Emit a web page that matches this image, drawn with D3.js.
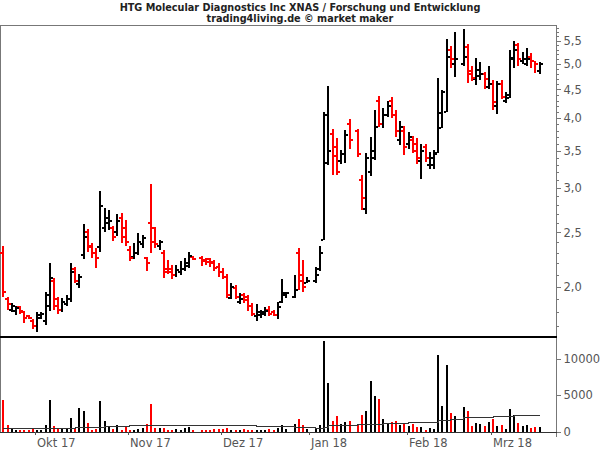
<!DOCTYPE html>
<html><head><meta charset="utf-8">
<script src="https://cdn.jsdelivr.net/npm/d3@7"></script>
<style>body{margin:0;background:#fff}svg{display:block}</style>
</head><body><svg id="c" width="600" height="450"></svg>
<script>
const dates = ["2017-09-20","2017-09-21","2017-09-22","2017-09-25","2017-09-26","2017-09-27","2017-09-28","2017-09-29",
"2017-10-02","2017-10-03","2017-10-04","2017-10-05","2017-10-06","2017-10-09","2017-10-10","2017-10-11","2017-10-12","2017-10-13",
"2017-10-16","2017-10-17","2017-10-18","2017-10-19","2017-10-20","2017-10-23","2017-10-24","2017-10-25","2017-10-26","2017-10-27",
"2017-10-30","2017-10-31","2017-11-01","2017-11-02","2017-11-03","2017-11-06","2017-11-07","2017-11-08","2017-11-09","2017-11-10",
"2017-11-13","2017-11-14","2017-11-15","2017-11-16","2017-11-17","2017-11-20","2017-11-21","2017-11-22","2017-11-24",
"2017-11-27","2017-11-28","2017-11-29","2017-11-30","2017-12-01","2017-12-04","2017-12-05","2017-12-06","2017-12-07","2017-12-08",
"2017-12-11","2017-12-12","2017-12-13","2017-12-14","2017-12-15","2017-12-18","2017-12-19","2017-12-20","2017-12-21","2017-12-22",
"2017-12-26","2017-12-27","2017-12-28","2017-12-29","2018-01-02","2018-01-03","2018-01-04","2018-01-05",
"2018-01-08","2018-01-09","2018-01-10","2018-01-11","2018-01-12","2018-01-16","2018-01-17","2018-01-18","2018-01-19",
"2018-01-22","2018-01-23","2018-01-24","2018-01-25","2018-01-26","2018-01-29","2018-01-30","2018-01-31","2018-02-01","2018-02-02",
"2018-02-05","2018-02-06","2018-02-07","2018-02-08","2018-02-09","2018-02-12","2018-02-13","2018-02-14","2018-02-15","2018-02-16",
"2018-02-20","2018-02-21","2018-02-22","2018-02-23","2018-02-26","2018-02-27","2018-02-28","2018-03-01","2018-03-02",
"2018-03-05","2018-03-06","2018-03-07","2018-03-08","2018-03-09","2018-03-12","2018-03-13","2018-03-14","2018-03-15","2018-03-16"];
const open  = [2.30,1.90,1.82,1.81,1.84,1.80,1.77,1.74, 1.70,1.76,1.74,1.85,2.05,1.90,1.82,1.86,1.90,2.15, 2.02,2.28,2.50,2.36,2.30,2.35,2.55,2.60,2.55,2.50,
 2.65,2.55,2.33,2.26,2.30,2.38,2.25,2.60,2.55,2.36, 2.30,2.15,2.15,2.10,2.12,2.15,2.18,2.26,2.25, 2.23,2.24,2.21,2.17,2.12,2.08,1.91,1.99,1.88,1.93,
 1.92,1.85,1.77,1.78,1.79,1.82,1.80,1.78,1.88,1.93, 1.92,2.30,2.10,2.03,2.05,2.15,2.42,3.32, 3.75,3.55,3.35,3.45,3.90,3.80,3.10,2.75,3.20,
 3.40,4.30,3.90,4.05,4.30,4.05,3.65,3.80,3.60,3.65, 3.60,3.35,3.55,3.30,3.30,3.46,3.84,4.10,5.30,5.00, 5.00,5.35,4.85,4.70,4.75,4.80,4.55,4.60,4.20,
 4.60,4.30,4.35,5.10,5.40,5.05,5.00,5.15,5.05,4.85];
const high  = [2.36,1.915,1.87,1.85,1.85,1.81,1.78,1.75, 1.80,1.80,1.96,2.20,2.07,1.92,1.91,1.93,2.20,2.17, 2.11,2.59,2.53,2.39,2.34,2.96,2.76,2.74,2.57,2.70,
 2.71,2.63,2.36,2.39,2.49,2.47,2.26,3.05,2.56,2.42, 2.33,2.23,2.19,2.19,2.22,2.25,2.31,2.27,2.27, 2.25,2.25,2.23,2.20,2.16,2.11,2.03,2.01,1.95,1.95,
 1.93,1.87,1.86,1.82,1.84,1.85,1.82,1.88,2.06,1.96, 2.10,2.34,2.23,2.08,2.17,2.36,4.11,4.56, 3.83,3.69,3.51,3.81,3.98,3.83,3.16,3.47,3.70,
 4.14,4.38,4.17,4.29,4.37,4.14,3.96,3.88,3.78,3.71, 3.68,3.60,3.59,3.48,3.51,4.71,4.49,5.53,5.37,5.71, 5.78,5.43,4.95,5.12,5.04,4.83,4.95,4.67,4.65,
 4.67,4.46,5.30,5.49,5.45,5.25,5.33,5.22,5.06,5.04];
const low   = [1.915,1.82,1.80,1.78,1.79,1.72,1.75,1.68, 1.66,1.75,1.71,1.81,1.82,1.79,1.80,1.85,1.88,2.03, 1.99,2.24,2.31,2.25,2.16,2.31,2.50,2.52,2.41,2.46,
 2.39,2.36,2.22,2.24,2.28,2.34,2.13,2.30,2.34,2.33, 2.07,2.11,2.06,2.08,2.10,2.13,2.16,2.23,2.18, 2.19,2.17,2.13,2.08,2.06,1.91,1.90,1.90,1.86,1.87,
 1.81,1.77,1.74,1.76,1.77,1.77,1.77,1.75,1.87,1.91, 1.91,1.97,1.96,2.03,2.03,2.13,2.42,3.30, 3.16,3.16,3.31,3.33,3.53,3.41,2.74,2.70,3.15,
 3.37,3.86,3.84,4.02,4.00,3.70,3.58,3.43,3.53,3.46, 3.31,3.11,3.34,3.25,3.25,3.46,3.84,4.10,4.91,4.73, 4.95,4.62,4.65,4.58,4.67,4.51,4.51,4.14,4.06,
 4.32,4.25,4.34,4.92,4.95,5.00,4.95,4.92,4.82,4.79];
const close = [1.96,1.86,1.85,1.83,1.81,1.76,1.76,1.70, 1.78,1.79,1.93,2.07,1.85,1.82,1.88,1.90,2.12,2.05, 2.08,2.45,2.35,2.30,2.25,2.79,2.65,2.62,2.45,2.62,
 2.45,2.40,2.25,2.30,2.40,2.44,2.20,2.40,2.38,2.40, 2.12,2.12,2.10,2.14,2.15,2.20,2.27,2.24,2.22, 2.21,2.20,2.16,2.12,2.08,1.93,2.00,1.92,1.90,1.89,
 1.85,1.79,1.80,1.80,1.81,1.79,1.78,1.84,1.95,1.95, 1.97,2.05,2.00,2.05,2.10,2.30,4.05,3.49, 3.42,3.20,3.45,3.73,3.65,3.45,2.88,3.40,3.50,
 3.86,3.90,4.05,4.20,4.05,3.80,3.85,3.55,3.70,3.50, 3.40,3.50,3.40,3.40,3.45,4.08,4.45,5.14,5.10,5.10, 5.15,4.80,4.72,4.88,4.79,4.70,4.60,4.28,4.60,
 4.36,4.40,5.13,5.30,5.10,5.10,5.10,5.05,5.00,5.00];
const volume = [4400,900,550,300,300,300,250,350, 300,300,1000,4400,770,500,400,600,1900,600, 3270,2800,1230,300,400,4180,1540,770,400,900,
 300,770,250,300,400,550,1100,3800,500,500, 500,250,250,400,300,600,700,300,300, 300,300,350,400,400,600,300,300,300,400,
 300,300,300,300,300,400,300,500,1000,400, 1090,1800,900,400,400,900,12400,6680, 1540,2130,1090,1360,1540,900,2270,2800,7000,
 4950,4540,1800,1230,1360,1540,1000,1230,770,1090, 680,640,300,550,450,10440,3580,9170,2590,2130, 3360,2810,770,1230,1090,770,1360,1800,770,
 900,450,3180,2270,1230,770,1000,550,700,700];
const volumeAvg = [500,500,500,500,500,500,500,500, 520,520,520,520,520,520,520,520,520,650, 650,650,650,650,650,650,850,850,850,850,
 850,850,950,950,950,950,950,950,950,950, 950,950,950,950,950,950,950,950,950, 950,950,950,950,950,950,950,950,950,950,
 950,950,850,850,850,850,850,850,850,850, 700,700,700,700,500,500,700,900, 900,900,900,900,900,1050,1050,1050,1050,
 1050,1050,1200,1200,1200,1200,1200,1200,1300,1300, 1300,1300,1300,1300,1300,1600,1600,1600,1800,1800, 2000,2000,2000,2000,2000,2000,2000,2150,2150,
 2150,2150,2150,2300,2300,2300,2300,2300,2300,2300];
const priceTicks = [2.0,2.5,3.0,3.5,4.0,4.5,5.0,5.5];
const priceMinorTicks = [1.7,1.8,1.9,2.0,2.1,2.2,2.3,2.4,2.5,2.6,2.7,2.8,2.9,3.0,3.1,3.2,3.3,3.4,3.5,3.6,3.7,3.8,3.9,4.0,4.1,4.2,4.3,4.4,4.5,4.6,4.7,4.8,4.9,5.0,5.1,5.2,5.3,5.4,5.5,5.6,5.7,5.8];
const volumeTicks = [0,5000,10000];
const monthStarts = ["2017-10-02","2017-11-01","2017-12-01","2018-01-01","2018-02-01","2018-03-01"];
const monthLabels = ["Okt 17","Nov 17","Dez 17","Jan 18","Feb 18","Mrz 18"];
const title1 = "HTG Molecular Diagnostics Inc XNAS / Forschung und Entwicklung";
const title2 = "trading4living.de \u00a9 market maker";

const svg = d3.select("#c");
const F = "DejaVu Sans, Verdana, sans-serif";
const L = 0, R = 556, T = 25, PB = 337, VB = 432;
const parse = d3.timeParse("%Y-%m-%d"), fmt = d3.timeFormat("%Y-%m-%d");
// calendar of weekdays spanning the data (axis domain)
const allDays = d3.timeDay.range(parse(dates[0]), d3.timeDay.offset(parse(dates[dates.length-1]),1))
  .filter(d => d.getDay() !== 0 && d.getDay() !== 6).map(fmt);
const x = d3.scalePoint().domain(allDays).range([3.3, 539.5]);
const step = x.step();
const y = d3.scaleLog().domain([1.626, 5.866]).range([PB, T]);
const yv = d3.scaleLinear().domain([0, 12940]).range([VB, PB]);

const data = dates.map((d,i)=>({d, o:open[i], h:high[i], l:low[i], c:close[i], v:volume[i], a:volumeAvg[i]}));
const col = d => d.c < d.o ? "#ff0000" : "#000000";

// title
svg.append("text").attr("x",300).attr("y",11).attr("text-anchor","middle").attr("font-family",F)
  .attr("font-size",9.7).attr("font-weight","bold").attr("fill","#222").text(title1);
svg.append("text").attr("x",300).attr("y",22).attr("text-anchor","middle").attr("font-family",F)
  .attr("font-size",9.7).attr("font-weight","bold").attr("fill","#222").text(title2);

// frames
const g = svg.append("g").attr("shape-rendering","crispEdges");
g.append("line").attr("x1",0).attr("x2",R).attr("y1",T+0.5).attr("y2",T+0.5).attr("stroke","#777");
g.append("line").attr("x1",0.5).attr("x2",0.5).attr("y1",T).attr("y2",VB+1).attr("stroke","#777");
g.append("line").attr("x1",R+0.5).attr("x2",R+0.5).attr("y1",T).attr("y2",VB+5).attr("stroke","#777");
g.append("rect").attr("x",0).attr("y",PB-1).attr("width",R+1).attr("height",2).attr("fill","#000");
g.append("line").attr("x1",0).attr("x2",R+5).attr("y1",VB+0.5).attr("y2",VB+0.5).attr("stroke","#333");

// price bars
const bars = g.append("g");
bars.selectAll("rect.v").data(data).join("rect").attr("class","v")
  .attr("x", d=>Math.round(x(d.d))-1).attr("width",2)
  .attr("y", d=>y(d.h)).attr("height", d=>Math.max(1,y(d.l)-y(d.h))).attr("fill",col);
bars.selectAll("rect.o").data(data).join("rect").attr("class","o")
  .attr("x", d=>Math.round(x(d.d))-3).attr("width",2)
  .attr("y", d=>Math.round(y(d.o))-1).attr("height",2).attr("fill",col);
bars.selectAll("rect.c").data(data).join("rect").attr("class","c")
  .attr("x", d=>Math.round(x(d.d))+1).attr("width",2)
  .attr("y", d=>Math.round(y(d.c))-1).attr("height",2).attr("fill",col);

// volume bars
g.append("g").selectAll("rect").data(data).join("rect")
  .attr("x", d=>Math.round(x(d.d))-1).attr("width",2)
  .attr("y", d=>yv(d.v)).attr("height", d=>VB-yv(d.v)).attr("fill",col);
// volume average
svg.append("path").datum(data).attr("fill","none").attr("stroke","#333").attr("stroke-width",1)
  .attr("shape-rendering","crispEdges")
  .attr("d", d3.line().x(d=>x(d.d)).y(d=>Math.round(yv(d.a))+0.5).curve(d3.curveStepAfter));

// right price axis
const ax = svg.append("g").attr("transform",`translate(${R+0.5},0)`);
ax.call(d3.axisRight(y).tickValues(priceMinorTicks).tickSize(2).tickFormat(""));
ax.append("g").call(d3.axisRight(y).tickValues(priceTicks).tickSize(4).tickPadding(3)
  .tickFormat(d=>d.toFixed(1).replace(".",",")));
ax.selectAll(".domain").remove();
ax.selectAll("line").attr("stroke","#777").attr("shape-rendering","crispEdges");
ax.selectAll("text").attr("font-family",F).attr("font-size",11.5).attr("fill","#555");

const av = svg.append("g").attr("transform",`translate(${R+0.5},0)`);
av.call(d3.axisRight(yv).tickValues(volumeTicks).tickSize(4).tickPadding(3).tickFormat(d3.format("d")));
av.selectAll(".domain").remove();
av.selectAll("line").attr("stroke","#777").attr("shape-rendering","crispEdges");
av.selectAll("text").attr("font-family",F).attr("font-size",11.5).attr("fill","#555");

// month axis
const mt = svg.append("g");
monthStarts.forEach((m,i)=>{
  const xp = Math.round(x(m) - step/2) + 0.5;
  mt.append("line").attr("x1",xp).attr("x2",xp).attr("y1",VB).attr("y2",VB+3).attr("stroke","#555").attr("shape-rendering","crispEdges");
  mt.append("text").attr("x",xp+1.5).attr("y",447).attr("font-family",F).attr("font-size",11.5).attr("fill","#555").text(monthLabels[i]);
});
</script></body></html>
